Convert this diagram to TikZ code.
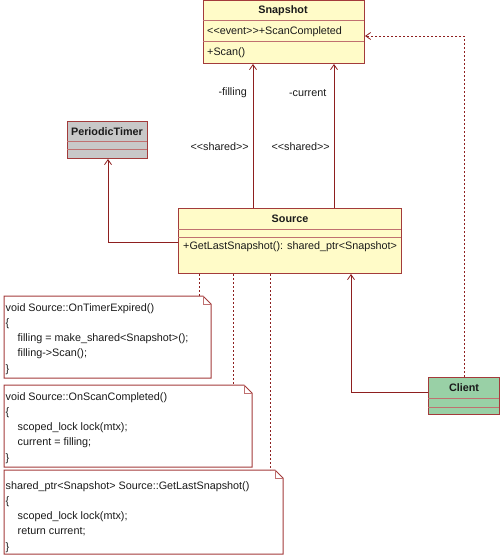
\documentclass[tikz,border=0pt]{standalone}
\usepackage{fontspec}
\setmainfont{Liberation Sans}
\usetikzlibrary{arrows.meta}
\definecolor{bord}{HTML}{A33B3B}
\definecolor{divc}{HTML}{C07070}
\definecolor{conn}{HTML}{8E1F1F}
\definecolor{yel}{HTML}{FFFBC8}
\definecolor{gry}{HTML}{C8C8C8}
\definecolor{grn}{HTML}{99D0A6}
\definecolor{txt}{HTML}{1A1A1A}
\tikzset{
  cls/.style={draw=bord, line width=1pt, inner sep=0pt, anchor=north west},
  divl/.style={draw=divc, line width=1pt},
  lbl/.style={inner sep=0pt, text=txt},
  ttl/.style={lbl, font=\fontsize{10.8}{13}\selectfont\bfseries},
  assoc/.style={draw=conn, line width=0.8pt, -{Straight Barb[length=5pt,width=7pt]}},
  dep/.style={draw=conn, line width=0.8pt, dash pattern=on 2pt off 2pt, -{Straight Barb[length=5pt,width=7pt]}},
  anchl/.style={draw=conn, line width=0.8pt, dash pattern=on 2pt off 2pt},
  notebox/.style={draw=bord, line width=1pt, fill=white},
  notetxt/.style={lbl, anchor=north west, align=left, font=\fontsize{10.8}{15.3}\selectfont},
}
\begin{document}
\begin{tikzpicture}[x=1pt,y=-1pt, font=\fontsize{10.8}{13}\selectfont]
\useasboundingbox (0,0) rectangle (500,556);
% Snapshot
\node[cls, fill=yel, minimum width=161pt, minimum height=62.5pt] (snap) at (203,0.5) {};
\draw[divl] (203,21) -- (364,21) (203,42) -- (364,42);
\node[ttl] (snapt) at (283,10.5) {Snapshot};
\node[lbl, anchor=west] (snapa) at (207,31.5) {<{}<event>{}>+ScanCompleted};
\node[lbl, anchor=west] (snapo) at (207,52.5) {+Scan()};
% PeriodicTimer
\node[cls, fill=gry, minimum width=80pt, minimum height=37pt] (timer) at (67,121) {};
\draw[divl] (67,142) -- (147,142) (67,150) -- (147,150);
\node[ttl] (timert) at (107,131.5) {PeriodicTimer};
% Source
\node[cls, fill=yel, minimum width=223pt, minimum height=65pt] (source) at (178,208) {};
\draw[divl] (178,229) -- (401,229) (178,237) -- (401,237);
\node[ttl] (sourcet) at (290,218.5) {Source};
\node[lbl, anchor=west] (sourceo) at (183,246.5) {+GetLastSnapshot(): shared\_ptr<Snapshot>};
% Client
\node[cls, fill=grn, minimum width=71pt, minimum height=37pt] (client) at (428,377) {};
\draw[divl] (428,398) -- (499,398) (428,407) -- (499,407);
\node[ttl] (clientt) at (464,387.5) {Client};
% coordinates for connector positions
\coordinate (xf) at (253,0);
\coordinate (xc) at (334,0);
\coordinate (xt) at (108,242);
\coordinate (xk) at (351,392);
\coordinate (xd) at (464,36);
\coordinate (n1) at (199,0);
\coordinate (n2) at (233,0);
\coordinate (n3) at (270,0);
% associations
\draw[assoc] (source.north -| xf) -- (snap.south -| xf);
\draw[assoc] (source.north -| xc) -- (snap.south -| xc);
\draw[assoc] (source.west |- xt) -- (xt) -- (timer.south -| xt);
\draw[assoc] (client.west |- xk) -- (xk) -- (source.south -| xk);
\draw[dep] (client.north -| xd) -- (xd) -- (snap.east |- xd);
\node[lbl, anchor=east] (lf) at (247,93) {-filling};
\node[lbl, anchor=east] (lc) at (326.5,93) {-current};
\node[lbl, anchor=east] (ls1) at (249,147) {<{}<shared>{}>};
\node[lbl, anchor=east] (ls2) at (330,147) {<{}<shared>{}>};
% notes
\draw[notebox] (4,296) -- (203,296) -- (211,304) -- (211,378) -- (4,378) -- cycle;
\draw[divl] (203,296) -- (203,304) -- (211,304);
\node[notetxt] (note1) at (5.5,303) {void Source::OnTimerExpired()\\ \{\\ \hspace*{12pt}filling = make\_shared<Snapshot>();\\ \hspace*{12pt}filling->Scan();\\ \}};
\draw[notebox] (4,385) -- (244,385) -- (252,393) -- (252,467) -- (4,467) -- cycle;
\draw[divl] (244,385) -- (244,393) -- (252,393);
\node[notetxt] (note2) at (5.5,392) {void Source::OnScanCompleted()\\ \{\\ \hspace*{12pt}scoped\_lock lock(mtx);\\ \hspace*{12pt}current = filling;\\ \}};
\draw[notebox] (4,470) -- (275,470) -- (283,478) -- (283,554) -- (4,554) -- cycle;
\draw[divl] (275,470) -- (275,478) -- (283,478);
\node[notetxt] (note3) at (5.5,481) {shared\_ptr<Snapshot> Source::GetLastSnapshot()\\ \{\\ \hspace*{12pt}scoped\_lock lock(mtx);\\ \hspace*{12pt}return current;\\ \}};
% anchor lines
\coordinate (a1) at (199,296);
\coordinate (a2) at (233,385);
\coordinate (a3) at (270,470);
\draw[anchl] (source.south -| n1) -- (a1);
\draw[anchl] (source.south -| n2) -- (a2);
\draw[anchl] (source.south -| n3) -- (a3);
\end{tikzpicture}
\end{document}
